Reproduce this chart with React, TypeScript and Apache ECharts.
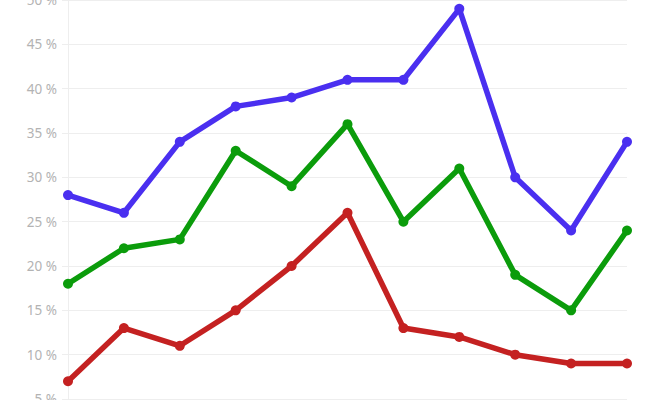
import React, { useEffect, useRef } from "react";
import * as echarts from "echarts";

const categories = ["1", "2", "3", "4", "5", "6", "7", "8", "9", "10", "11"];
const blueValues = [28, 26, 34, 38, 39, 41, 41, 49, 30, 24, 34];
const greenValues = [18, 22, 23, 33, 29, 36, 25, 31, 19, 15, 24];
const redValues = [7, 13, 11, 15, 20, 26, 13, 12, 10, 9, 9];

export default function App() {
  const ref = useRef<HTMLDivElement>(null);
  useEffect(() => {
    document.body.style.margin = "0";
    const chart = echarts.init(ref.current!, null, { renderer: "svg" });
    const mk = (name: string, data: number[], color: string) => ({
      name,
      type: "line",
      data,
      symbol: "circle",
      symbolSize: 10,
      lineStyle: { width: 5.5, color },
      itemStyle: { color },
      z: 3,
    });
    chart.setOption({
      animation: false,
      grid: { left: 68, right: 31, top: 0, bottom: 1, containLabel: false, outerBoundsMode: "none" },
      xAxis: {
        type: "category",
        data: categories,
        boundaryGap: false,
        axisLabel: { show: false },
        axisTick: { show: false },
        axisLine: { show: false },
      },
      yAxis: {
        type: "value",
        min: 5,
        max: 50,
        interval: 5,
        axisLabel: {
          formatter: "{value} %",
          color: "#b3b3b3",
          fontSize: 13.5,
          fontFamily: "Noto Sans",
          margin: 11,
        },
        axisTick: { show: true, length: 6, lineStyle: { color: "#eeeeee" } },
        axisLine: { show: true, lineStyle: { color: "#eeeeee" } },
        splitLine: { lineStyle: { color: "#eeeeee" } },
      },
      series: [
        mk("blue", blueValues, "#4a2ff0"),
        mk("green", greenValues, "#0b9c0b"),
        mk("red", redValues, "#c42121"),
      ],
    });
    return () => chart.dispose();
  }, []);
  return <div ref={ref} style={{ width: 658, height: 400 }} />;
}
